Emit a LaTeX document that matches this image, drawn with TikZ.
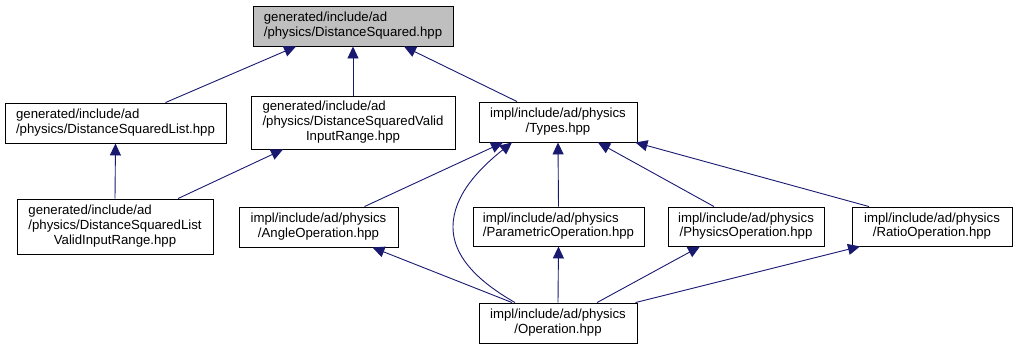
\documentclass[tikz,border=0pt]{standalone}
\usepackage{fontspec}
\setmainfont{Liberation Sans}
\usetikzlibrary{arrows.meta}
\definecolor{edgeblue}{RGB}{25,25,112}
\definecolor{rootgray}{RGB}{191,191,191}
\tikzset{
  filebox/.style={draw=black, line width=0.9pt, fill=white, inner sep=0pt,
    font=\fontsize{13.2}{14.8}\selectfont, anchor=center},
  rootbox/.style={filebox, fill=rootgray},
  dep/.style={draw=edgeblue, line width=0.9pt,
    {Triangle[length=12pt,width=11pt,fill=edgeblue]}-}
}
\newcommand{\lcol}[1]{\begin{tabular}{@{}l@{}}#1\end{tabular}}
\newcommand{\ccol}[1]{\begin{tabular}{@{}c@{}}#1\end{tabular}}
\newcommand{\mcenter}[1]{\multicolumn{1}{@{}c@{}}{#1}}
\begin{document}
\begin{tikzpicture}[x=1pt,y=-1pt]
\useasboundingbox (0,0) rectangle (1015,349);

% file nodes
\node[rootbox, minimum width=200pt, minimum height=40pt] (top) at (353,26)
  {\lcol{generated/include/ad\\/physics/DistanceSquared.hpp}};
\node[filebox, minimum width=221pt, minimum height=40pt] (dsl) at (115.5,123)
  {\lcol{generated/include/ad\\/physics/DistanceSquaredList.hpp}};
\node[filebox, minimum width=204pt, minimum height=53pt] (dsv) at (353,122.5)
  {\lcol{generated/include/ad\\/physics/DistanceSquaredValid\\\mcenter{InputRange.hpp}}};
\node[filebox, minimum width=158pt, minimum height=40pt] (types) at (558,122)
  {\ccol{impl/include/ad/physics\\/Types.hpp}};
\node[filebox, minimum width=196pt, minimum height=55pt] (dslv) at (115,226.5)
  {\lcol{generated/include/ad\\/physics/DistanceSquaredList\\\mcenter{ValidInputRange.hpp}}};
\node[filebox, minimum width=159pt, minimum height=40pt] (angle) at (318.5,227)
  {\ccol{impl/include/ad/physics\\/AngleOperation.hpp}};
\node[filebox, minimum width=171pt, minimum height=39pt] (param) at (558.5,226.5)
  {\lcol{impl/include/ad/physics\\/ParametricOperation.hpp}};
\node[filebox, minimum width=156pt, minimum height=39pt] (phys) at (746,226.5)
  {\ccol{impl/include/ad/physics\\/PhysicsOperation.hpp}};
\node[filebox, minimum width=160pt, minimum height=39pt] (ratio) at (932,226.5)
  {\ccol{impl/include/ad/physics\\/RatioOperation.hpp}};
\node[filebox, minimum width=158pt, minimum height=40pt] (op) at (558,323)
  {\ccol{impl/include/ad/physics\\/Operation.hpp}};

% include dependencies (arrow points at the included file)
\draw[dep] ([xshift=-57pt]top.south) -- ([xshift=50pt]dsl.north);
\draw[dep] (top.south) -- (dsv.north);
\draw[dep] ([xshift=51pt]top.south) -- ([xshift=-41pt]types.north);
\draw[dep] (dsl.south) -- (dslv.north);
\draw[dep] ([xshift=-70pt]dsv.south) -- ([xshift=63pt]dslv.north);
\draw[dep] ([xshift=-55pt]types.south) -- ([xshift=46pt]angle.north);
\draw[dep] ([xshift=-46pt]types.south) .. controls (480,168) and (453,195) .. (453,227)
  .. controls (453,262) and (488,287) .. ([xshift=-43pt]op.north);
\draw[dep] (types.south) -- (param.north);
\draw[dep] ([xshift=40pt]types.south) -- ([xshift=-32pt]phys.north);
\draw[dep] ([xshift=-2pt]types.south east) -- ([xshift=-63pt]ratio.north);
\draw[dep] ([xshift=54pt]angle.south) -- ([xshift=-46pt]op.north);
\draw[dep] (param.south) -- (op.north);
\draw[dep] ([xshift=-46pt]phys.south) -- ([xshift=39pt]op.north);
\draw[dep] ([xshift=-72pt]ratio.south) -- ([xshift=-2pt]op.north east);
\end{tikzpicture}
\end{document}
